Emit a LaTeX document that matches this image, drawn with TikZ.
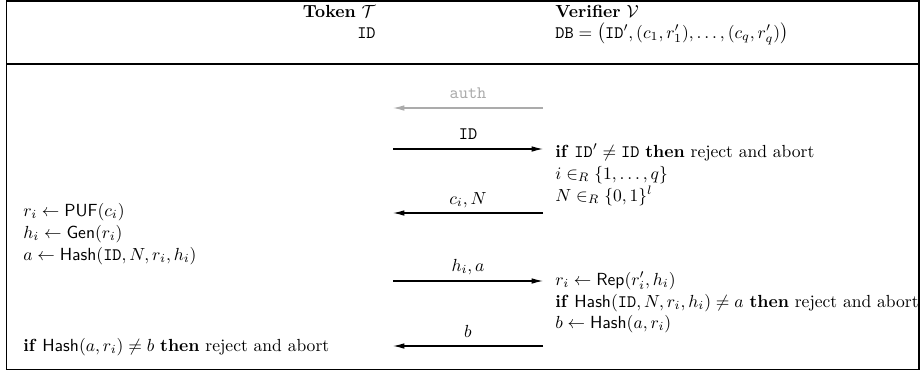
\documentclass[tikz,border=0pt]{standalone}
\usetikzlibrary{arrows.meta}
\begin{document}
\begin{tikzpicture}[x=0.5707pt,y=-0.5707pt,
  txt/.style={anchor=base west,inner sep=0pt},
  txtr/.style={anchor=base east,inner sep=0pt},
  lbl/.style={anchor=base,inner sep=0pt},
  msg/.style={line width=0.6pt,-{Latex[length=6.5pt,width=3.2pt]}},
  faint/.style={draw=black!33,text=black!33},
  frame/.style={line width=0.8pt}]
\useasboundingbox (0,0) rectangle (920,371);
\draw[frame] (6.5,1) rectangle (919,369.5);
\draw[frame] (6.5,64) -- (919,64);
% header
\node[txtr] (tok) at (376,17) {\textbf{Token} $\mathcal{T}$};
\node[txtr] (tid) at (376,38) {\texttt{ID}};
\node[txt] (ver) at (555,17) {\textbf{Verifier} $\mathcal{V}$};
\node[txt] (db) at (555,38) {$\mathtt{DB}=\bigl(\mathtt{ID}',(c_1,r_1'),\ldots,(c_q,r_q')\bigr)$};
% arrow endpoints
\coordinate (a1l) at (393,108); \coordinate (a1r) at (543,108);
\coordinate (a2l) at (393,149); \coordinate (a2r) at (543,149);
\coordinate (a3l) at (393,213); \coordinate (a3r) at (543,213);
\coordinate (a4l) at (393,281); \coordinate (a4r) at (543,281);
\coordinate (a5l) at (393,346); \coordinate (a5r) at (543,346);
\draw[msg,draw=black!33] (a1r) -- (a1l);
\draw[msg] (a2l) -- (a2r);
\draw[msg] (a3r) -- (a3l);
\draw[msg] (a4l) -- (a4r);
\draw[msg] (a5r) -- (a5l);
\node[lbl,text=black!33] (l1) at (468,98) {\texttt{auth}};
\node[lbl] (l2) at (468,139) {\texttt{ID}};
\node[lbl] (l3) at (468,204) {$c_i,N$};
\node[lbl] (l4) at (468,271) {$h_i,a$};
\node[lbl] (l5) at (468,337) {$b$};
% verifier side
\node[txt] (v1) at (555,157) {\textbf{if} $\mathtt{ID}'\neq\mathtt{ID}$ \textbf{then} reject and abort};
\node[txt] (v2) at (555,179) {$i\in_R\{1,\ldots,q\}$};
\node[txt] (v3) at (555,201) {$N\in_R\{0,1\}^l$};
\node[txt] (v4) at (555,285) {$r_i\leftarrow\mathsf{Rep}(r_i',h_i)$};
\node[txt] (v5) at (555,307) {\textbf{if} $\mathsf{Hash}(\mathtt{ID},N,r_i,h_i)\neq a$ \textbf{then} reject and abort};
\node[txt] (v6) at (555,328) {$b\leftarrow\mathsf{Hash}(a,r_i)$};
% token side
\node[txt] (t1) at (23,216) {$r_i\leftarrow\mathsf{PUF}(c_i)$};
\node[txt] (t2) at (23,238) {$h_i\leftarrow\mathsf{Gen}(r_i)$};
\node[txt] (t3) at (23,260) {$a\leftarrow\mathsf{Hash}(\mathtt{ID},N,r_i,h_i)$};
\node[txt] (t4) at (23,351) {\textbf{if} $\mathsf{Hash}(a,r_i)\neq b$ \textbf{then} reject and abort};
\end{tikzpicture}
\end{document}
